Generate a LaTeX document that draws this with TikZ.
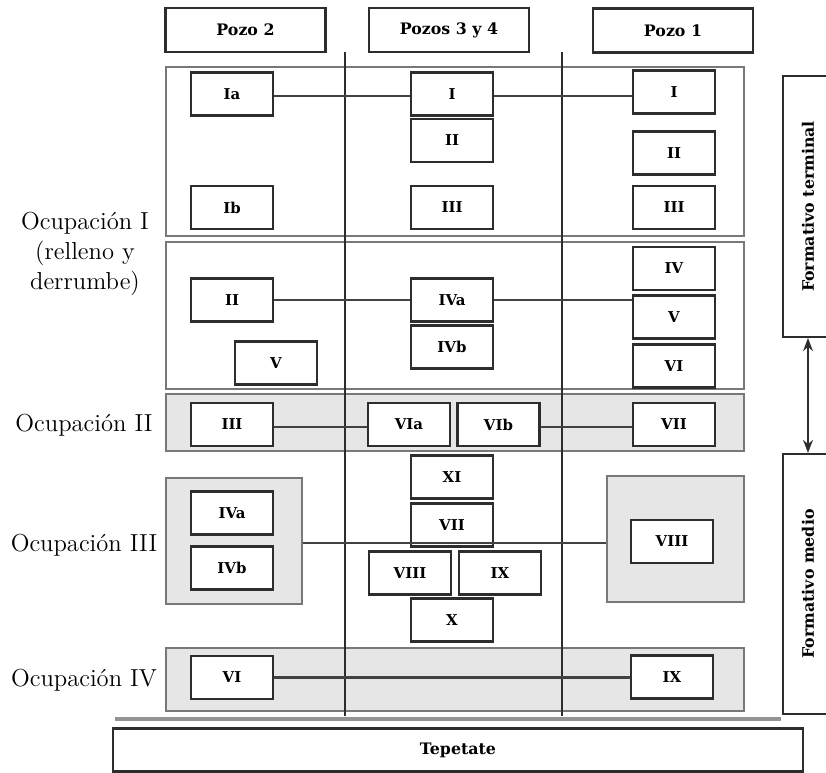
\documentclass[tikz,border=0pt]{standalone}
\usepackage{fontspec}
\usepackage{tikz}
\usetikzlibrary{positioning,arrows.meta,calc}
\newfontfamily\capafont{DejaVu Serif}
\definecolor{bandfill}{RGB}{230,230,230}
\definecolor{bandline}{RGB}{120,120,120}
\definecolor{inkline}{RGB}{45,45,45}
\tikzset{
  capa/.style={draw=inkline,line width=1.3pt,fill=white,minimum width=1.64cm,minimum height=0.86cm,inner sep=1pt,font=\capafont\fontsize{8.5}{10}\selectfont\bfseries},
  pozo/.style={capa,minimum width=3.2cm,minimum height=0.88cm,font=\capafont\fontsize{9}{11}\selectfont\bfseries},
  banda/.style={draw=bandline,line width=0.8pt},
  gris/.style={banda,fill=bandfill},
  ocup/.style={align=center,font=\fontsize{14}{17}\selectfont},
  liga/.style={draw=inkline!90,line width=1.2pt},
  eje/.style={draw=inkline,line width=0.8pt},
  fase/.style={draw=inkline,line width=1.2pt,fill=white,font=\capafont\fontsize{9}{11}\selectfont\bfseries},
}
\begin{document}
\begin{tikzpicture}[x=0.02cm,y=-0.02cm]
  \useasboundingbox (0,0) rectangle (826,772);
  % bandas de ocupacion
  \draw[banda] (166,67) rectangle (744,236);
  \draw[banda] (166,242) rectangle (744,389);
  \draw[gris] (166,394) rectangle (744,451);
  \draw[gris] (166,648) rectangle (744,711);
  \node[gris,minimum width=2.72cm,minimum height=2.52cm] (grisL) at (234,541) {};
  \node[gris,minimum width=2.74cm,minimum height=2.52cm] (grisR) at (675.5,539) {};
  % linea de base
  \draw[line width=2.2pt,bandline!80] (115,719) -- (781,719);
  % pozos
  \node[pozo] (pozoB) at (245.5,30) {Pozo 2};
  \node[pozo] (pozoM) at (449,30) {Pozos 3 y 4};
  \node[pozo] (pozoA) at (673,30.5) {Pozo 1};
  \coordinate (ejeL) at (345,52);
  \coordinate (ejeR) at (562,52);
  \draw[eje] (ejeL) -- (ejeL |- 0,716);
  \draw[eje] (ejeR) -- (ejeR |- 0,716);
  % Ocupacion I (parte alta)
  \node[capa] (lIa) at (232,94) {Ia};
  \node[capa] (lIb) at (232,207.5) {Ib};
  \node[capa] (mI) at (452,94) {I};
  \node[capa] (mII) at (452,140.5) {II};
  \node[capa] (mIII) at (452,207.5) {III};
  \node[capa] (rI) at (674,92) {I};
  \node[capa] (rII) at (674,153) {II};
  \node[capa] (rIII) at (674,207.5) {III};
  % Ocupacion I (parte baja)
  \node[capa] (lII) at (232,300) {II};
  \node[capa] (lV) at (276,363) {V};
  \node[capa] (mIVa) at (452,300) {IVa};
  \node[capa] (mIVb) at (452,347) {IVb};
  \node[capa] (rIV) at (674,268.5) {IV};
  \node[capa] (rV) at (674,317) {V};
  \node[capa] (rVI) at (674,366) {VI};
  % Ocupacion II
  \node[capa] (lIII) at (232,424.5) {III};
  \node[capa] (mVIa) at (409,424.5) {VIa};
  \node[capa] (mVIb) at (498.5,424.5) {VIb};
  \node[capa] (rVII) at (674,424.5) {VII};
  % Ocupacion III
  \node[capa] (lIVa) at (232,513) {IVa};
  \node[capa] (lIVb) at (232,568) {IVb};
  \node[capa] (mXI) at (452,477) {XI};
  \node[capa] (mVII) at (452,525) {VII};
  \node[capa] (mVIII) at (410,573) {VIII};
  \node[capa] (mIX) at (500,573) {IX};
  \node[capa] (mX) at (452,620) {X};
  \node[capa] (rVIII) at (672,541.5) {VIII};
  % Ocupacion IV
  \node[capa] (lVI) at (232,677.5) {VI};
  \node[capa] (rIX) at (672,677) {IX};
  % correlaciones
  \draw[liga] (lIa.east |- 0,96) -- (mI.west |- 0,96);
  \draw[liga] (mI.east |- 0,96) -- (rI.west |- 0,96);
  \draw[liga] (lII.east) -- (mIVa.west);
  \draw[liga] (mIVa.east) -- (mIVa.east -| rV.west);
  \draw[liga] (lIII.east |- 0,427) -- (mVIa.west |- 0,427);
  \draw[liga] (mVIb.east |- 0,427) -- (rVII.west |- 0,427);
  \draw[liga] (grisL.east |- 0,543) -- (grisR.west |- 0,543);
  \draw[liga] (lVI.east) -- (lVI.east -| rIX.west);
  % etiquetas de ocupacion
  \node[ocup] (ocI) at (85,254) {Ocupaci\'on I\\(relleno y\\derrumbe)};
  \node[ocup] (ocII) at (84,425) {Ocupaci\'on II};
  \node[ocup] (ocIII) at (84,545) {Ocupaci\'on III};
  \node[ocup] (ocIV) at (84,680) {Ocupaci\'on IV};
  % periodos
  \node[fase,minimum width=5.22cm,minimum height=1.0cm,rotate=90] (ftermi) at (808,206.5) {Formativo terminal};
  \node[fase,minimum width=5.2cm,minimum height=1.0cm,rotate=90] (fmedio) at (808,584) {Formativo medio};
  \draw[{Stealth[length=2.6mm]}-{Stealth[length=2.6mm]},line width=1.3pt,inkline] (ftermi.west) -- (fmedio.east);
  % base
  \node[fase,minimum width=13.8cm,minimum height=0.86cm] (tepe) at (458,750) {Tepetate};
\end{tikzpicture}
\end{document}
